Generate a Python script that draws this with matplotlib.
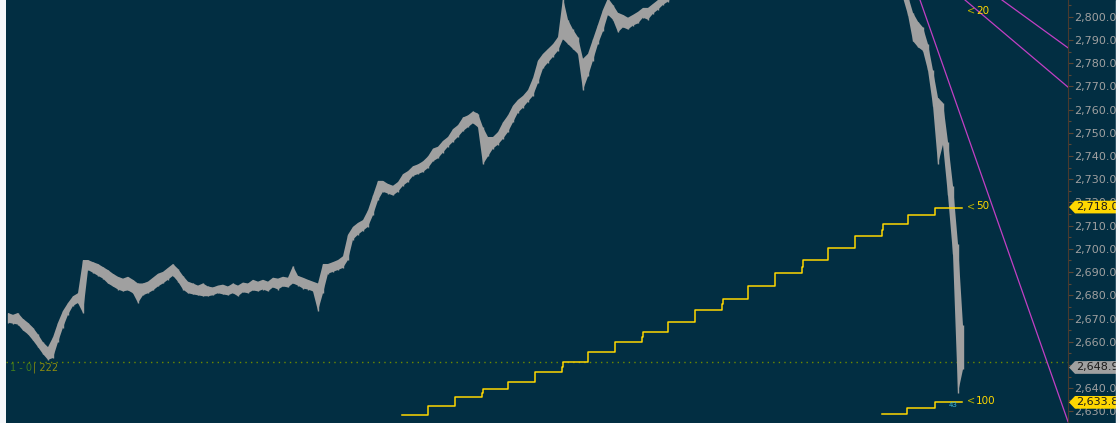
import matplotlib.pyplot as plt
import matplotlib.transforms as mtransforms
from matplotlib.patches import Polygon, Rectangle
import numpy as np

# 1 minute bars (high / low)
bar_hi = [
    2672.4, 2671.6, 2672.4, 2669.9, 2668.2, 2666.1, 2663.2, 2659.8, 2657.7, 2661.9,
    2668.2, 2673.3, 2676.7, 2679.6, 2680.9, 2695.2, 2695.2, 2694.3, 2693.5, 2692.2,
    2690.9, 2689.3, 2688.0, 2687.2, 2688.0, 2686.7, 2685.1, 2685.1, 2685.9, 2687.6,
    2689.3, 2690.1, 2691.8, 2693.5, 2691.4, 2688.4, 2685.9, 2685.1, 2684.2, 2685.1,
    2683.8, 2683.4, 2684.2, 2684.6, 2683.8, 2685.1, 2684.2, 2685.5, 2685.1, 2686.7,
    2685.9, 2686.7, 2685.9, 2687.6, 2687.2, 2688.0, 2687.6, 2692.6, 2688.4, 2687.6,
    2686.7, 2685.9, 2685.1, 2693.5, 2693.5, 2694.3, 2695.2, 2696.8, 2706.1, 2709.5,
    2711.2, 2712.4, 2716.6, 2723.0, 2729.3, 2729.3, 2728.0, 2727.2, 2728.8, 2732.2,
    2733.5, 2735.6, 2736.4, 2737.7, 2739.8, 2743.2, 2744.0, 2746.5, 2748.2, 2751.6,
    2753.3, 2756.6, 2757.5, 2759.2, 2758.3, 2752.4, 2748.2, 2748.2, 2750.3, 2754.5,
    2757.5, 2761.7, 2764.2, 2765.9, 2768.4, 2773.5, 2781.1, 2784.0, 2786.1, 2788.2,
    2791.2, 2808.0, 2798.7, 2794.5, 2791.2, 2781.9, 2784.0, 2790.3, 2796.6, 2803.0,
    2808.0, 2805.1, 2801.7, 2800.8, 2799.6, 2800.8, 2802.1, 2803.8, 2803.8, 2805.5,
    2807.2, 2809.3, 2811.0, 2812.5, 2813.0, 2814.2, 2813.6, 2815.0, 2816.3, 2815.8,
    2817.1, 2818.4, 2817.9, 2819.2, 2820.5, 2819.8, 2821.3, 2822.6, 2821.9, 2823.4,
    2824.1, 2823.0, 2824.8, 2825.6, 2824.9, 2826.3, 2827.0, 2825.8, 2826.9, 2828.2,
    2827.4, 2826.1, 2827.3, 2825.9, 2824.6, 2825.2, 2823.8, 2822.5, 2821.7, 2820.3,
    2819.6, 2818.2, 2817.5, 2816.0, 2815.3, 2814.1, 2813.4, 2812.2, 2811.5, 2810.8,
    2809.0, 2801.7, 2797.9, 2795.4, 2788.2, 2776.9, 2765.1, 2762.9, 2746.1, 2727.2,
    2702.2, 2667.0,
]
bar_lo = [
    2668.2, 2667.8, 2667.4, 2664.9, 2663.2, 2660.6, 2657.7, 2654.7, 2652.2, 2653.0,
    2659.8, 2666.1, 2671.6, 2675.4, 2676.7, 2672.4, 2690.9, 2689.7, 2688.4, 2687.2,
    2685.1, 2683.8, 2682.5, 2681.7, 2682.1, 2680.9, 2676.7, 2680.0, 2680.9, 2682.1,
    2683.8, 2685.1, 2686.7, 2688.4, 2685.9, 2682.5, 2680.9, 2680.4, 2680.0, 2679.6,
    2679.6, 2680.0, 2680.9, 2680.4, 2680.0, 2680.9, 2679.6, 2681.3, 2680.9, 2682.1,
    2681.7, 2682.5, 2681.7, 2683.4, 2682.5, 2683.8, 2683.4, 2685.1, 2684.2, 2682.9,
    2682.5, 2681.7, 2673.3, 2680.9, 2689.3, 2690.1, 2690.9, 2691.8, 2695.2, 2704.0,
    2706.1, 2707.8, 2709.5, 2714.5, 2720.9, 2724.6, 2723.8, 2723.0, 2724.6, 2727.2,
    2728.8, 2731.4, 2732.2, 2733.1, 2734.8, 2737.7, 2739.0, 2741.5, 2744.0, 2746.1,
    2748.2, 2750.7, 2752.4, 2754.1, 2752.4, 2736.4, 2739.8, 2743.2, 2744.9, 2747.4,
    2750.3, 2754.5, 2758.7, 2760.8, 2763.4, 2765.9, 2771.4, 2777.7, 2780.2, 2782.7,
    2785.3, 2790.3, 2788.2, 2786.1, 2784.0, 2768.4, 2774.3, 2781.1, 2788.2, 2793.7,
    2800.8, 2798.7, 2793.3, 2795.4, 2794.5, 2796.2, 2797.1, 2799.6, 2798.7, 2801.3,
    2803.0, 2805.1, 2806.5, 2808.6, 2809.2, 2810.1, 2809.8, 2811.0, 2812.4, 2811.9,
    2813.0, 2814.2, 2813.8, 2815.1, 2816.3, 2815.7, 2817.2, 2818.4, 2817.6, 2819.3,
    2820.0, 2818.9, 2820.7, 2821.4, 2820.8, 2822.1, 2822.9, 2821.6, 2822.8, 2824.0,
    2823.2, 2822.0, 2823.1, 2821.8, 2820.5, 2821.0, 2819.7, 2818.4, 2817.6, 2816.2,
    2815.5, 2814.1, 2813.4, 2812.0, 2811.2, 2810.0, 2809.3, 2808.5, 2808.4, 2808.2,
    2800.8, 2789.5, 2786.9, 2785.3, 2776.9, 2761.7, 2736.4, 2744.9, 2723.0, 2697.7,
    2638.0, 2648.1,
]

# higher timeframe averages, step start times and values
ma50_t = [78.7, 84.0, 89.3, 94.7, 94.9, 100.0, 105.3, 110.7, 110.9, 116.0, 121.3, 126.7, 126.9,
          132.0, 137.3, 142.7, 142.9, 148.0, 153.3, 158.7, 158.9, 164.0, 169.3, 174.7, 174.9,
          180.0, 185.3]
ma50_v = [2628.6, 2632.3, 2636.1, 2638.0, 2639.5, 2642.8, 2647.0, 2649.3, 2651.2, 2655.5, 2659.7,
          2661.9, 2664.3, 2668.5, 2673.6, 2676.2, 2678.6, 2684.1, 2689.6, 2692.2, 2695.0, 2700.5,
          2705.6, 2708.2, 2710.6, 2714.8, 2717.8]
ma100_t = [174.7, 179.8, 185.3]
ma100_v = [2628.8, 2631.5, 2634.0]
ma_end = 190.7

# trend lines (t0, p0, t1, p1)
trend_lines = [
    (182.4, 2807.2, 210.4, 2635.4),
    (198.8, 2807.2, 210.4, 2789.1),
    (191.4, 2807.2, 210.4, 2772.6),
]

level_line = 2651.2
price_tags = [2718.01, 2648.91, 2633.89]
tag_colors = ['#ffd700', '#a0a0a0', '#ffd700']

ma_names = ['10', '20', '50', '100']
ma_name_y = [2808.8, 2802.5, 2718.3, 2634.5]

bg = '#022e42'
side = '#f5f7fa'

fig = plt.figure(figsize=(11.2, 4.23), dpi=100, facecolor=side)
ax = fig.add_axes([6 / 1120, 0, 1062 / 1120, 1])
ax.set_facecolor(bg)
fig.patches.append(Rectangle((1068 / 1120, 0), 48 / 1120, 1, transform=fig.transFigure,
                             color=bg, zorder=-1))
fig.patches.append(Rectangle((1116 / 1120, 0), 4 / 1120, 1, transform=fig.transFigure,
                             color=side, zorder=10))

# price bars
t = np.arange(len(bar_hi))
ax.fill_between(t, bar_lo, bar_hi, color='#a0a0a0', lw=0, zorder=3)
ax.vlines(t, bar_lo, bar_hi, color='#a0a0a0', lw=1, zorder=3)

# averages
ax.step(ma50_t + [ma_end], ma50_v + [ma50_v[-1]], where='post', color='#ffd700', lw=1.1, zorder=4)
ax.step(ma100_t + [ma_end], ma100_v + [ma100_v[-1]], where='post', color='#ffd700', lw=1.1, zorder=4)

ax.axhline(level_line, color='#6f8a00', lw=1, ls=(0, (1, 3)), zorder=2)

for t0, p0, t1, p1 in trend_lines:
    ax.axline((t0, p0), (t1, p1), color='#c23fc4', lw=0.9, zorder=2)

for name, y in zip(ma_names, ma_name_y):
    ax.text(191.7, y, '<', color='#b8b000', fontsize=7, va='center', ha='left', clip_on=True, zorder=6)
    ax.text(193.6, y, name, color='#ffd700', fontsize=7.5, va='center', ha='left', clip_on=True, zorder=6)
ax.text(188.2, 2632.8, '43', color='#3fb8d8', fontsize=5, va='center', ha='left', zorder=6)

ax.text(0.4, 2648.8, '1 - 0', color='#3f7a1f', fontsize=7, va='center', ha='left')
ax.text(5.0, 2648.8, '| 222', color='#8c8c10', fontsize=7, va='center', ha='left')

ax.set_xlim(-0.4, 212)
ax.set_ylim(2629.1, 2807.2)
ax.set_xticks([])
ax.yaxis.tick_right()
ax.set_yticks(np.arange(2630, 2810, 10))
ax.set_yticks(np.arange(2625, 2810, 5), minor=True)
ax.yaxis.set_major_formatter(plt.FuncFormatter(lambda v, pos: f'{v:,.2f}'))
ax.tick_params(axis='y', which='both', colors='#5a4636', labelcolor='#a0a0a0',
               labelsize=8, pad=1, width=0.8)
ax.tick_params(axis='y', which='major', length=3.5)
ax.tick_params(axis='y', which='minor', length=2)
for s in ['top', 'left', 'bottom']:
    ax.spines[s].set_visible(False)
ax.spines['right'].set_color('#4a3a2e')

# price tags on the scale
trans = mtransforms.blended_transform_factory(ax.transAxes, ax.transData)
h = 6.5 / 2.375
x0, x1, x2 = (1069 - 6) / 1062, (1075 - 6) / 1062, 1.06
for p, c in zip(price_tags, tag_colors):
    poly = Polygon([[x0, p], [x1, p + h], [x2, p + h], [x2, p - h], [x1, p - h]], closed=True,
                   transform=trans, facecolor=c, edgecolor='none', clip_on=False, zorder=6)
    ax.add_patch(poly)
    ax.text(x1 + 0.001, p, f'{p:,.2f}', transform=trans, va='center', ha='left',
            fontsize=8, color='#1a1a1a', zorder=7, clip_on=False)

fig.savefig('out.png', dpi=100, facecolor=side)
